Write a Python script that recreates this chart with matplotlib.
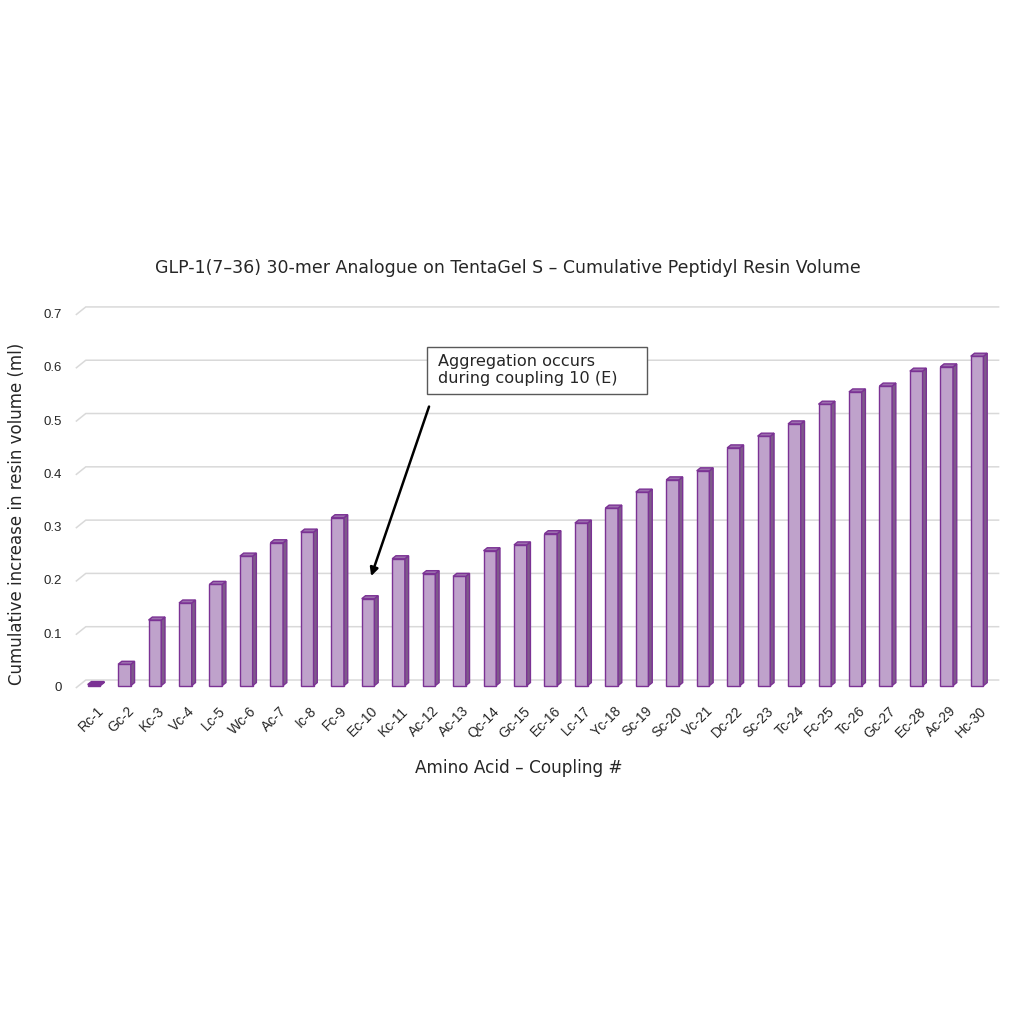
import matplotlib
matplotlib.use("Agg")
import matplotlib.pyplot as plt
from matplotlib.patches import Polygon, Rectangle
import numpy as np

labels = ["Rc-1", "Gc-2", "Kc-3", "Vc-4", "Lc-5", "Wc-6", "Ac-7", "Ic-8", "Fc-9", "Ec-10",
          "Kc-11", "Ac-12", "Ac-13", "Qc-14", "Gc-15", "Ec-16", "Lc-17", "Yc-18", "Sc-19", "Sc-20",
          "Vc-21", "Dc-22", "Sc-23", "Tc-24", "Fc-25", "Tc-26", "Gc-27", "Ec-28", "Ac-29", "Hc-30"]
values = [0.002, 0.040, 0.123, 0.155, 0.190, 0.243, 0.268, 0.288, 0.315, 0.163,
          0.238, 0.210, 0.205, 0.253, 0.264, 0.285, 0.305, 0.333, 0.363, 0.386,
          0.403, 0.446, 0.468, 0.491, 0.528, 0.551, 0.562, 0.590, 0.598, 0.618]
yticks = [0, 0.1, 0.2, 0.3, 0.4, 0.5, 0.6, 0.7]
ytick_labels = ["0", "0.1", "0.2", "0.3", "0.4", "0.5", "0.6", "0.7"]

title = "GLP-1(7\u201336) 30-mer Analogue on TentaGel S \u2013 Cumulative Peptidyl Resin Volume"
xlabel = "Amino Acid \u2013 Coupling #"
ylabel = "Cumulative increase in resin volume (ml)"
note = "Aggregation occurs\nduring coupling 10 (E)"
note_bar = 9  # index of Ec-10

FRONT = "#bfa2cb"
SIDE = "#7e5a8a"
TOP = "#9c6fae"
EDGE = "#7b3294"
GRID = "#d9d9d9"
TXT = "#262626"
MAIN_FONT = ["DejaVu Sans"]
TICK_FONT = ["Liberation Sans", "DejaVu Sans"]

fig = plt.figure(figsize=(10.24, 10.24), dpi=100)
W = H = 1024.0
ax = fig.add_axes([70 / W, (H - 700) / H, 930 / W, 400 / H])
ax.set_xlim(-0.69, 29.85)
ax.set_ylim(-0.0225, 0.728)
ax.axis("off")

# depth of 3-D floor (in data units)
DX = 10 / 30.45
DY = 8 * 0.7505 / 400
f1, f2 = 0.30, 0.675
bw = 0.417

x = np.arange(len(values))

# back-wall gridlines with diagonal leg to the front plane
for v, lab in zip(yticks, ytick_labels):
    ax.plot([-0.5, -0.5 + DX, 29.5 + DX], [v, v + DY, v + DY], color=GRID, lw=1.1,
            solid_capstyle="butt", zorder=1)
    ax.text(-0.95, v, lab, ha="right", va="center",
            fontsize=9.5, family=TICK_FONT, color=TXT)

# front faces as real bars
ax.bar(x + f1 * DX, values, width=bw, bottom=f1 * DY, color=FRONT, edgecolor=EDGE,
       linewidth=1.0, zorder=3)
for xi, v in zip(x, values):
    xl = xi + f1 * DX - bw / 2
    xr = xi + f1 * DX + bw / 2
    side = [(xr, f1 * DY), (xr + (f2 - f1) * DX, f2 * DY),
            (xr + (f2 - f1) * DX, v + f2 * DY), (xr, v + f1 * DY)]
    top = [(xl, v + f1 * DY), (xr, v + f1 * DY),
           (xr + (f2 - f1) * DX, v + f2 * DY), (xl + (f2 - f1) * DX, v + f2 * DY)]
    ax.add_patch(Polygon(side, closed=True, facecolor=SIDE, edgecolor=EDGE, lw=1.0, zorder=3))
    ax.add_patch(Polygon(top, closed=True, facecolor=TOP if v > 0.01 else EDGE,
                         edgecolor=EDGE, lw=1.0, zorder=3))

# x tick labels
for xi, lab in zip(x, labels):
    ax.text(xi + 0.18, -0.03, lab, rotation=45, ha="right", va="top",
            rotation_mode="anchor", fontsize=10, family=TICK_FONT, color=TXT)

# titles
fig.text(508 / W, 1 - 268 / H, title, ha="center", va="center", fontsize=12.5,
         family=MAIN_FONT, color=TXT)
fig.text(519 / W, 1 - 768 / H, xlabel, ha="center", va="center", fontsize=12.2,
         family=MAIN_FONT, color=TXT)
fig.text(17 / W, 1 - 514 / H, ylabel, ha="center", va="center", rotation=90,
         fontsize=12, family=MAIN_FONT, color=TXT)

# annotation
ax.annotate("", xy=(note_bar + 0.17, 0.205), xytext=(note_bar + 2.13, 0.533),
            arrowprops=dict(arrowstyle="-|>", color="black", lw=1.8,
                            mutation_scale=12), zorder=5)
ax.add_patch(Rectangle((note_bar + 2.03, 0.5516), 7.23, 0.0882, facecolor="white",
                       edgecolor="#595959", lw=1.0, zorder=6))
ax.text(note_bar + 2.40, 0.5966, note, ha="left", va="center", fontsize=11.6,
        family=MAIN_FONT, color=TXT, linespacing=1.15, zorder=7)

fig.savefig("out.png", dpi=100, facecolor="white")
